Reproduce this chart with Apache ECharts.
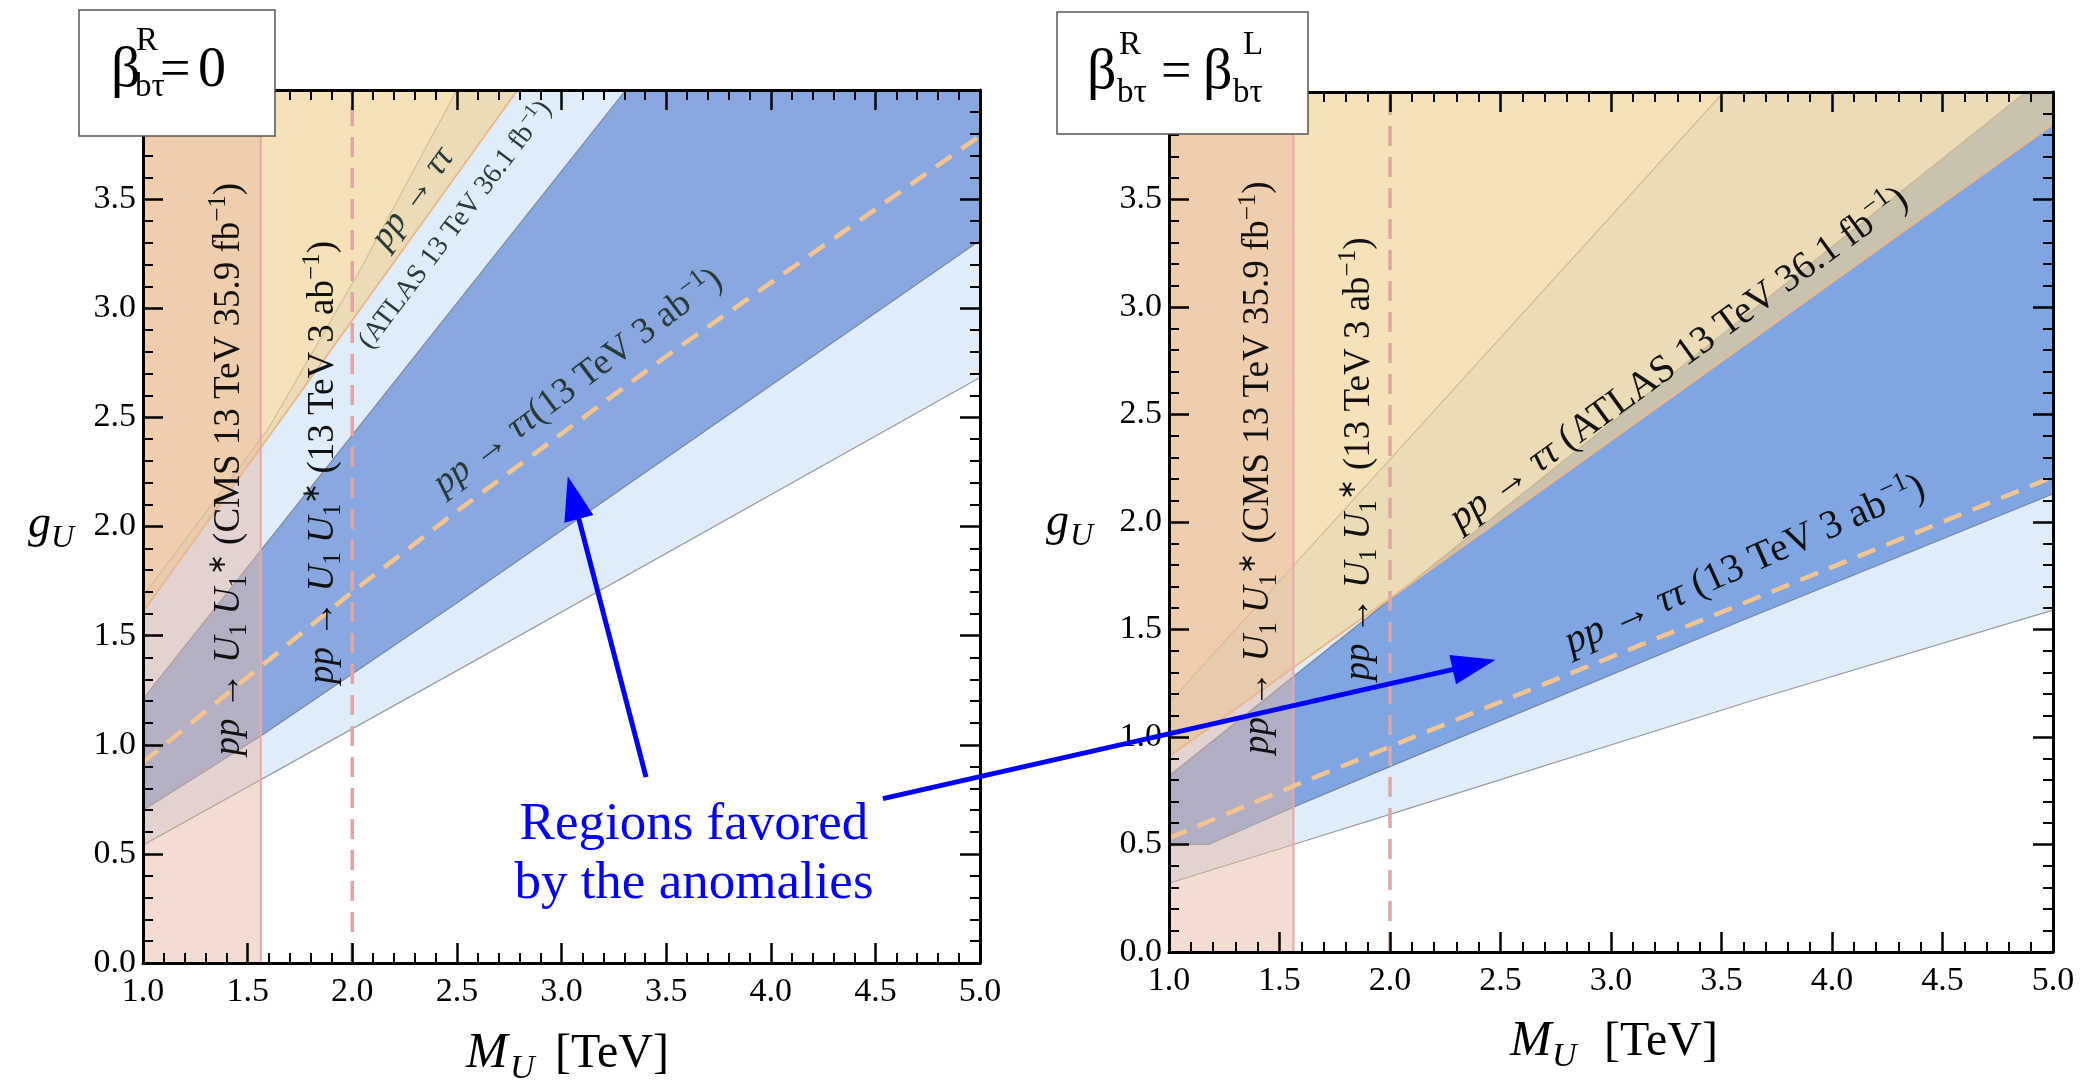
<!DOCTYPE html>
<html><head><meta charset="utf-8">
<script src="https://cdn.jsdelivr.net/npm/echarts@6/dist/echarts.min.js"></script>
<style>html,body{margin:0;padding:0;background:#fff;} #c{width:2086px;height:1082px;}</style>
</head><body><div id="c"></div>
<script>
// ---------------- data (M_U in TeV, g_U) ----------------
const X_MIN = 1.0, X_MAX = 5.0, Y_MIN = 0.0, Y_MAX = 4.0;
const X_TICK_LABELS = ['1.0','1.5','2.0','2.5','3.0','3.5','4.0','4.5','5.0'];
const Y_TICK_LABELS = ['0.0','0.5','1.0','1.5','2.0','2.5','3.0','3.5',''];
const CMS_MASS = 1.563;       // CMS 13 TeV 35.9 fb-1 pair-production limit
const PAIR_PROJ_MASS = 2.0;   // 13 TeV 3 ab-1 projection

// left panel: beta_R = 0
const L_LIGHT_LO = [[1.0,0.54],[2.52,1.35],[5.0,2.683]];
const L_LIGHT_UP = [[1.0,1.68],[1.6,2.45],[2.04,3.18],[2.5,4.0]];
const L_DARK_LO  = [[1.0,0.70],[1.563,1.04],[2.516,1.66],[5.0,3.31]];
const L_DARK_UP  = [[1.0,1.21],[3.307,4.0]];
const L_ATLAS    = [[1.0,1.61],[2.79,4.0]];
const L_PROJ     = [[1.0,0.92],[2.0,1.70],[2.5,2.07],[3.5,2.78],[5.0,3.79]];

// right panel: beta_R = beta_L
const R_LIGHT_LO = [[1.0,0.32],[1.563,0.50],[2.0,0.64],[3.64,1.17],[5.0,1.59]];
const R_LIGHT_UP = [[1.0,1.16],[3.51,4.0]];
const R_DARK_LO  = [[1.0,0.50],[1.18,0.50],[1.563,0.673],[2.0,0.862],[3.58,1.536],[5.0,2.13]];
const R_DARK_UP  = [[1.0,0.82],[4.877,4.0]];
const R_ATLAS    = [[1.0,0.91],[5.0,3.85]];
const R_PROJ     = [[1.0,0.53],[1.563,0.772],[2.0,0.955],[3.58,1.614],[5.0,2.21]];

// ---------------- styles ----------------
const FONT = "'Liberation Serif', 'Times New Roman', serif";
const C_LIGHT = '#DFEDFB';
const C_DARK_L = '#89A8E0';
const C_DARK_R = '#7FA6E3';
const C_YELLOW = 'rgba(241,210,144,0.64)';
const C_CMS = 'rgba(229,183,159,0.47)';
const C_EDGE = 'rgba(95,95,95,0.6)';
const C_ATLAS_EDGE = '#EDB988';
const C_PROJ = '#F3C48F';
const C_PAIR = '#E2A5A5';
const C_CMS_EDGE = '#E8A8A8';

const chart = echarts.init(document.getElementById('c'), null, {renderer:'canvas'});

const grids = [
  {left:143, top:90, width:837, height:873},
  {left:1169, top:92, width:884, height:860}
];

function axisCommon(showLabel){
  return {
    z:20,
    axisLine:{show:true, onZero:false, lineStyle:{color:'#000', width:3}},
    axisTick:{show:true, inside:true, length:20, lineStyle:{color:'#000', width:2.5}},
    minorTick:{show:true, splitNumber:5, length:10, lineStyle:{color:'#000', width:2}},
    splitLine:{show:false}, minorSplitLine:{show:false},
    axisLabel:{show:showLabel, color:'#000', fontFamily:FONT, fontSize:34}
  };
}
const xAxes = [], yAxes = [];
[0,1].forEach(g=>{
  ['bottom','top'].forEach(pos=>{
    const a = Object.assign(axisCommon(pos==='bottom'), {type:'value', gridIndex:g, position:pos, min:X_MIN, max:X_MAX, interval:0.5});
    a.axisLabel.margin = 12; a.axisLabel.showMinLabel = true; a.axisLabel.showMaxLabel = true;
    a.axisLabel.formatter = v => X_TICK_LABELS[Math.round((v - X_MIN)/0.5)] || '';
    xAxes.push(a);
  });
  ['left','right'].forEach(pos=>{
    const a = Object.assign(axisCommon(pos==='left'), {type:'value', gridIndex:g, position:pos, min:Y_MIN, max:Y_MAX, interval:0.5});
    a.axisLabel.margin = 7; a.axisLabel.showMinLabel = true;
    a.axisLabel.formatter = v => Y_TICK_LABELS[Math.round((v - Y_MIN)/0.5)] || '';
    yAxes.push(a);
  });
});
function poly(g, pts, fill, z){
  return {type:'custom', xAxisIndex:2*g, yAxisIndex:2*g, z:z, silent:true, clip:true, animation:false,
    data: pts,
    renderItem:(params, api)=> params.dataIndex===0 ? {
      type:'polygon', shape:{points: pts.map(p=>api.coord(p))}, style:{fill:fill}
    } : null
  };
}
function line(g, pts, color, width, type, z){
  return {type:'line', xAxisIndex:2*g, yAxisIndex:2*g, data:pts, symbol:'none', silent:true, animation:false, z:z,
    lineStyle:{color:color, width:width, type:type||'solid'}};
}
function band(lo, up){ return lo.concat([[X_MAX,Y_MAX]], up.slice().reverse()); }
const cmsRect = [[X_MIN,Y_MIN],[CMS_MASS,Y_MIN],[CMS_MASS,Y_MAX],[X_MIN,Y_MAX]];
const cmsEdge = [[CMS_MASS,Y_MIN],[CMS_MASS,Y_MAX]];
const pairLine = [[PAIR_PROJ_MASS,Y_MIN],[PAIR_PROJ_MASS,Y_MAX]];

const series = [
  poly(0, band(L_LIGHT_LO, L_LIGHT_UP), C_LIGHT, 1),
  poly(0, band(L_DARK_LO, L_DARK_UP), C_DARK_L, 2),
  line(0, L_LIGHT_LO, C_EDGE, 1.2, 'solid', 3),
  line(0, L_LIGHT_UP, C_EDGE, 1.2, 'solid', 3),
  line(0, L_DARK_LO, C_EDGE, 1.2, 'solid', 3),
  line(0, L_DARK_UP, C_EDGE, 1.2, 'solid', 3),
  poly(0, L_ATLAS.concat([[X_MIN,Y_MAX]]), C_YELLOW, 4),
  line(0, L_ATLAS, C_ATLAS_EDGE, 2, 'solid', 5),
  poly(0, cmsRect, C_CMS, 6),
  line(0, cmsEdge, C_CMS_EDGE, 2, 'solid', 7),
  line(0, pairLine, C_PAIR, 3.5, [20,11], 8),
  line(0, L_PROJ, C_PROJ, 4.5, [19,12], 9),
  poly(1, band(R_LIGHT_LO, R_LIGHT_UP), C_LIGHT, 1),
  poly(1, band(R_DARK_LO, R_DARK_UP), C_DARK_R, 2),
  line(1, R_LIGHT_LO, C_EDGE, 1.2, 'solid', 3),
  line(1, R_LIGHT_UP, C_EDGE, 1.2, 'solid', 3),
  line(1, R_DARK_LO, C_EDGE, 1.2, 'solid', 3),
  line(1, R_DARK_UP, C_EDGE, 1.2, 'solid', 3),
  poly(1, R_ATLAS.concat([[X_MAX,Y_MAX],[X_MIN,Y_MAX]]), C_YELLOW, 4),
  line(1, R_ATLAS, C_ATLAS_EDGE, 2, 'solid', 5),
  poly(1, cmsRect, C_CMS, 6),
  line(1, cmsEdge, C_CMS_EDGE, 2, 'solid', 7),
  line(1, pairLine, C_PAIR, 3.5, [20,11], 8),
  line(1, R_PROJ, C_PROJ, 4.5, [19,12], 9)
];

chart.setOption({animation:false, grid:grids, xAxis:xAxes, yAxis:yAxes, series:series});

// ---------------- annotations ----------------
const rich = (s)=>({
  i:{fontFamily:FONT, fontStyle:'italic', fontSize:s, lineHeight:Math.round(s*1.25), verticalAlign:'middle'},
  r:{fontFamily:FONT, fontSize:s, lineHeight:Math.round(s*1.25), verticalAlign:'middle'},
  sb:{fontFamily:FONT, fontSize:Math.round(s*0.68), lineHeight:Math.round(s*0.68), verticalAlign:'bottom'},
  sp:{fontFamily:FONT, fontSize:Math.round(s*0.68), lineHeight:Math.round(s*0.68), verticalAlign:'top'}
});
const UU = '{i|pp → U}{sb|1}{i| U}{sb|1}{sp|∗}';
// [grid, M, g, angle(deg), text, size, color]
const LABELS = [
  [0, 1.41, 2.263, 90, UU + '{r| (CMS 13 TeV 35.9 fb}{sp|−1}{r|)}', 37, '#111'],
  [0, 1.86, 2.293, 90, UU + '{r| (13 TeV 3 ab}{sp|−1}{r|)}', 37, '#111'],
  [0, 2.29, 3.505, 54, '{i|pp → ττ}', 36, '#2a3a3a'],
  [0, 2.493, 3.381, 53, '{r|(ATLAS 13 TeV 36.1 fb}{sp|−1}{r|)}', 28, '#2a3a3a'],
  [0, 3.079, 2.662, 37, '{i|pp → ττ}{r|(13 TeV 3 ab}{sp|−1}{r|)}', 37, '#2a3a3a'],
  [1, 1.405, 2.253, 90, UU + '{r| (CMS 13 TeV 35.9 fb}{sp|−1}{r|)}', 37, '#111'],
  [1, 1.86, 2.293, 90, UU + '{r| (13 TeV 3 ab}{sp|−1}{r|)}', 37, '#111'],
  [1, 3.308, 2.758, 36, '{i|pp → ττ} {r|(ATLAS 13 TeV 36.1 fb}{sp|−1}{r|)}', 39, '#111'],
  [1, 3.606, 1.80, 24, '{i|pp → ττ} {r|(13 TeV 3 ab}{sp|−1}{r|)}', 40, '#111']
];
const NOTE_LINES = [['Regions favored', 3.633, 0.55], ['by the anomalies', 3.633, 0.28]];
const ARROWS = [
  [0, 3.404, 0.852, 0, 3.03, 2.23],
  [0, 4.536, 0.753, 1, 2.478, 1.359]
];

const gfx = [];
LABELS.forEach(L=>{
  const p = chart.convertToPixel({gridIndex:L[0]}, [L[1], L[2]]);
  gfx.push({type:'text', x:p[0], y:p[1], rotation:L[3]*Math.PI/180, z:30, silent:true,
    style:{text:L[4], rich:rich(L[5]), fontSize:L[5], fontFamily:FONT, fill:L[6], align:'center', verticalAlign:'middle'}});
});
NOTE_LINES.forEach(n=>{
  const p = chart.convertToPixel({gridIndex:0}, [n[1], n[2]]);
  gfx.push({type:'text', x:p[0], y:p[1]-0.33*53, z:30, silent:true,
    style:{text:n[0], fontSize:53, fontFamily:FONT, fill:'#0000FF', align:'center', verticalAlign:'middle'}});
});
ARROWS.forEach(a=>{
  const p0 = chart.convertToPixel({gridIndex:a[0]}, [a[1], a[2]]);
  const p1 = chart.convertToPixel({gridIndex:a[3]}, [a[4], a[5]]);
  const dx=p1[0]-p0[0], dy=p1[1]-p0[1], Ln=Math.hypot(dx,dy), ux=dx/Ln, uy=dy/Ln;
  const hl=44, hw=15;
  const bx=p1[0]-ux*hl, by=p1[1]-uy*hl;
  gfx.push({type:'line', z:31, silent:true, shape:{x1:p0[0], y1:p0[1], x2:bx+ux*4, y2:by+uy*4}, style:{stroke:'#0000FF', lineWidth:5}});
  gfx.push({type:'polygon', z:31, silent:true, shape:{points:[[p1[0],p1[1]],[bx-uy*hw, by+ux*hw],[bx+uy*hw, by-ux*hw]]}, style:{fill:'#0000FF'}});
});
function t(x, yb, s, size, italic, z){
  return {type:'text', x:x, y:yb-0.33*size, z:z||42, silent:true,
    style:{text:s, fontSize:size, fontFamily:FONT, fontStyle:italic?'italic':'normal', fill:'#000', align:'left', verticalAlign:'middle'}};
}
// title boxes
gfx.push({type:'rect', z:40, silent:true, shape:{x:79, y:10, width:196, height:126}, style:{fill:'#fff', stroke:'#555', lineWidth:1.5}});
gfx.push(t(111, 90, 'β', 58), t(136, 52, 'R', 33), t(135, 98, 'bτ', 33), t(160, 90, '=', 54), t(198, 90, '0', 56));
gfx.push({type:'rect', z:40, silent:true, shape:{x:1057, y:12, width:251, height:122}, style:{fill:'#fff', stroke:'#555', lineWidth:1.5}});
gfx.push(t(1087, 92, 'β', 58), t(1119, 56, 'R', 33), t(1117, 104, 'bτ', 33), t(1161, 92, '=', 54),
         t(1203, 92, 'β', 58), t(1243, 56, 'L', 33), t(1233, 104, 'bτ', 33));
// axis titles
gfx.push(t(28, 540, 'g', 46, true, 30), t(51, 549, 'U', 32, true, 30));
gfx.push(t(1046, 538, 'g', 46, true, 30), t(1070, 547, 'U', 32, true, 30));
gfx.push(t(466, 1070, 'M', 50, true, 30), t(510, 1080, 'U', 34, true, 30), t(555, 1070, '[TeV]', 48, false, 30));
gfx.push(t(1510, 1058, 'M', 50, true, 30), t(1552, 1068, 'U', 34, true, 30), t(1604, 1058, '[TeV]', 48, false, 30));

chart.setOption({graphic: gfx});
</script></body></html>
